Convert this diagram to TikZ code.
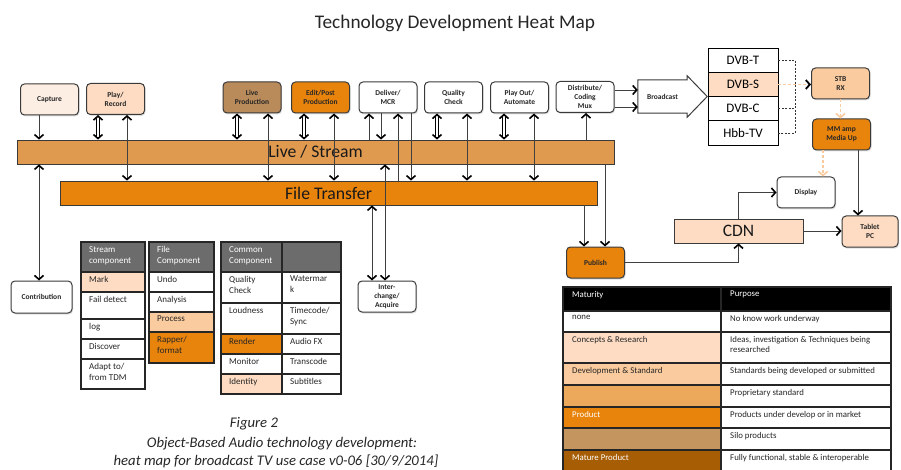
\documentclass[tikz,border=0pt]{standalone}
\usepackage{fontspec}
\setmainfont{Carlito}
\usetikzlibrary{positioning,arrows.meta,shadows}

\definecolor{inkgray}{HTML}{3A3A3A}
\definecolor{capturepeach}{HTML}{FDEEE3}
\definecolor{crpeach}{HTML}{FDDCC3}
\definecolor{dspeach}{HTML}{FACB9E}
\definecolor{proporange}{HTML}{EDA95B}
\definecolor{streamorange}{HTML}{E09A4F}
\definecolor{prodorange}{HTML}{E8830C}
\definecolor{silobrown}{HTML}{C4955E}
\definecolor{liveprodbrown}{HTML}{B98A5A}
\definecolor{maturebrown}{HTML}{A65D04}
\definecolor{hdrgray}{HTML}{6C6C6C}

\newcommand{\fs}[2]{\fontsize{#1}{#2}\selectfont}
% table cell: name, x, y, width, height, fill, text colour, text
\newcommand{\tcell}[8]{%
  \node[cell, fill=#6, minimum width=#4pt, minimum height=#5pt,
        label={[celltxt, text=#7]north west:{#8}}] (#1) at (#2,#3) {};}

\tikzset{
  stage/.style={draw=inkgray, line width=1pt, rounded corners=4pt, fill=white,
    minimum width=58pt, minimum height=31pt, inner sep=1pt, align=center,
    text=black!85, font=\bfseries\fs{7.5}{9},
    drop shadow={opacity=0.25, shadow xshift=1pt, shadow yshift=-1.5pt}},
  bus/.style={draw=inkgray, line width=0.8pt, minimum height=24pt,
    inner sep=0pt, text=black!90, font=\fs{17.7}{20}},
  dvb/.style={draw=black, line width=1pt, fill=white, minimum width=70pt,
    minimum height=24.3pt, inner sep=0pt, outer sep=0pt, font=\fs{13}{15}},
  cell/.style={draw=black!85, line width=1.1pt, anchor=north west,
    inner sep=0pt, outer sep=0pt},
  celltxt/.style={anchor=north west, inner xsep=8pt, inner ysep=4pt,
    align=left, font=\fs{9}{11}},
  conn/.style={draw=black!75, line width=0.9pt},
  dbl/.style={draw=black, line width=1pt, double=white, double distance=2.6pt, <->},
  peachdash/.style={draw=dspeach, line width=1.5pt, dash pattern=on 3pt off 2pt},
  bracket/.style={draw=black!80, line width=0.8pt, dash pattern=on 2pt off 1.5pt}
}

\begin{document}
\begin{tikzpicture}[x=1pt, y=-1pt,
    >={Straight Barb[length=4pt,width=9pt,line width=1.6pt,color=black]}]
  \useasboundingbox (0,0) rectangle (901,470);

  \node[font=\fs{19.3}{22}, text=black!85] (title) at (455,23)
    {Technology Development Heat Map};

  % buses
  \node[bus, fill=streamorange, minimum width=597pt] (stream) at (315.5,152) {Live / Stream};
  \node[bus, fill=prodorange, minimum width=537pt] (ftrans) at (328.5,193) {File Transfer};

  % top row of stages
  \node[stage, fill=capturepeach] (capture) at (49.5,99.5) {Capture};
  \node[stage, fill=crpeach] (playrec) at (115.5,99) {Play/\\Record};
  \node[stage, fill=liveprodbrown] (liveprod) at (252,97.5) {Live\\Production};
  \node[stage, fill=prodorange] (editpost) at (320.5,97.5) {Edit/Post\\Production};
  \node[stage] (deliver) at (388,97.5) {Deliver/\\MCR};
  \node[stage] (quality) at (453.5,97.5) {Quality\\Check};
  \node[stage] (playout) at (519.5,97.5) {Play Out/\\Automate};
  \node[stage] (distrib) at (585,97) {Distribute/\\Coding\\Mux};

  % broadcast arrow and delivery systems
  \node[inner sep=0pt, minimum width=49pt, minimum height=33pt,
        text=black!85, font=\bfseries\fs{7.5}{9}] (bcast) at (662.5,96.5) {Broadcast};
  \draw[draw=inkgray, line width=1pt, line join=miter]
    (bcast.north west) -- (bcast.north east) -- ([yshift=4pt]bcast.north east)
    -- ([xshift=20pt]bcast.east) -- ([yshift=-4pt]bcast.south east)
    -- (bcast.south east) -- (bcast.south west) -- cycle;
  \node[dvb] (dvbt) at (743,60.2) {DVB-T};
  \node[dvb, fill=crpeach, below=0pt of dvbt] (dvbs) {DVB-S};
  \node[dvb, below=0pt of dvbs] (dvbc) {DVB-C};
  \node[dvb, below=0pt of dvbc] (hbbtv) {Hbb-TV};

  \node[stage, fill=dspeach] (stb) at (840.5,83.5) {STB\\RX};
  \node[stage, fill=prodorange] (mmamp) at (841.5,134.5) {MM amp\\Media Up};
  \node[stage] (display) at (806,192.5) {Display};
  \node[stage, fill=crpeach, minimum width=56pt] (tablet) at (870,231.5) {Tablet\\PC};
  \node[bus, fill=crpeach, minimum width=129pt, font=\fs{17.5}{20}] (cdn) at (738.5,231) {CDN};
  \node[stage, fill=prodorange] (publish) at (595.5,262.5) {Publish};

  \node[stage, minimum width=61pt, minimum height=32pt] (contrib) at (41.5,297) {Contribution};
  \node[stage] (interchg) at (387,296.5) {Inter-\\change/\\Acquire};

  % stage <-> bus connectors
  \draw[conn, ->] ([xshift=-10.5pt]capture.south) -- ([xshift=-10.5pt]capture.south |- stream.north);
  \draw[dbl] ([xshift=-17.5pt]playrec.south) -- ([xshift=-17.5pt]playrec.south |- stream.north);
  \draw[conn, <->] ([xshift=11.5pt]playrec.south) -- ([xshift=11.5pt]playrec.south |- ftrans.north);
  \draw[dbl] ([xshift=-15pt]liveprod.south) -- ([xshift=-15pt]liveprod.south |- stream.north);
  \draw[conn, <->] ([xshift=16pt]liveprod.south) -- ([xshift=16pt]liveprod.south |- ftrans.north);
  \draw[dbl] ([xshift=-16.5pt]editpost.south) -- ([xshift=-16.5pt]editpost.south |- stream.north);
  \draw[conn, <->] ([xshift=13.5pt]editpost.south) -- ([xshift=13.5pt]editpost.south |- ftrans.north);
  \draw[conn, <-] ([xshift=-19pt]deliver.south) -- ([xshift=-19pt]deliver.south |- stream.north);
  \draw[conn, ->] ([xshift=-7pt]deliver.south) -- ([xshift=-7pt]deliver.south |- stream.north);
  \draw[conn, <-] ([xshift=10pt]deliver.south) -- ([xshift=10pt]deliver.south |- ftrans.north);
  \draw[conn, ->] ([xshift=23pt]deliver.south) -- ([xshift=23pt]deliver.south |- ftrans.north);
  \draw[dbl] ([xshift=-16.5pt]quality.south) -- ([xshift=-16.5pt]quality.south |- stream.north);
  \draw[conn, <->] ([xshift=13.5pt]quality.south) -- ([xshift=13.5pt]quality.south |- ftrans.north);
  \draw[dbl] ([xshift=-15.5pt]playout.south) -- ([xshift=-15.5pt]playout.south |- stream.north);
  \draw[conn, <->] ([xshift=14.5pt]playout.south) -- ([xshift=14.5pt]playout.south |- ftrans.north);
  \draw[conn, <-] ([xshift=1pt]distrib.south) -- ([xshift=1pt]distrib.south |- stream.north);
  \draw[conn, <->] ([xshift=-2.5pt]contrib.north) -- ([xshift=-2.5pt]contrib.north |- stream.south);
  \draw[conn, <->] ([xshift=-15pt]interchg.north) -- ([xshift=-15pt]interchg.north |- ftrans.south);
  \draw[conn, <->] ([xshift=-2pt]interchg.north) -- ([xshift=-2pt]interchg.north |- stream.south);
  \draw[conn, ->] ([xshift=9.5pt]publish.north |- stream.south) -- ([xshift=9.5pt]publish.north);
  \draw[conn, ->] ([xshift=-11.5pt]publish.north |- ftrans.south) -- ([xshift=-11.5pt]publish.north);

  % distribution side
  \draw[conn, ->] ([yshift=7pt]distrib.east) -- ([yshift=7pt]distrib.east -| bcast.west);
  \draw[conn, ->] ([yshift=-10pt]distrib.east) -- ([yshift=-10pt]distrib.east -| bcast.west);
  \draw[bracket] (dvbt.east) -- ++(17pt,0pt) |- (hbbtv.east);
  \draw[bracket] (dvbc.east) -- ++(17pt,0pt);
  \draw[peachdash, -{Straight Barb[length=4pt,width=9pt,line width=1.8pt,color=black]}]
    (dvbs.east) -- (dvbs.east -| stb.west);
  \draw[peachdash, -{Straight Barb[length=4pt,width=9pt,line width=1.6pt]}]
    (stb.south) -- (stb.south |- mmamp.north);
  \draw[peachdash, -{Straight Barb[length=4pt,width=9pt,line width=1.6pt]}]
    ([xshift=-18.5pt]mmamp.south) -- ([xshift=-18.5pt]mmamp.south |- display.north);
  \draw[conn, ->] ([xshift=16.5pt]mmamp.south) -- ([xshift=16.5pt]mmamp.south |- tablet.north);
  \draw[conn, ->] (cdn.north) |- (display.west);
  \draw[conn, ->] (cdn.east) -- (cdn.east -| tablet.west);
  \draw[conn, ->] (publish.east) -| (cdn.south);

  % component tables
  \tcell{scomph}{81}{242}{64}{30}{hdrgray}{white}{Stream\\component}
  \tcell{smark}{81}{272}{64}{20}{crpeach}{black!85}{Mark}
  \tcell{sfail}{81}{292}{64}{27}{white}{black!85}{Fail detect}
  \tcell{slog}{81}{319}{64}{20}{white}{black!85}{log}
  \tcell{sdisc}{81}{339}{64}{20}{white}{black!85}{Discover}
  \tcell{sadapt}{81}{359}{64}{30}{white}{black!85}{Adapt to/\\from TDM}

  \tcell{fcomph}{149}{242}{65}{30}{hdrgray}{white}{File\\Component}
  \tcell{fundo}{149}{272}{65}{20}{white}{black!85}{Undo}
  \tcell{fanal}{149}{292}{65}{20}{white}{black!85}{Analysis}
  \tcell{fproc}{149}{312}{65}{20}{dspeach}{black!85}{Process}
  \tcell{frapper}{149}{332}{65}{31}{prodorange}{black!85}{Rapper/\\format}

  \tcell{ccomph}{221}{242}{61}{30}{hdrgray}{white}{Common\\Component}
  \tcell{ccomphb}{282}{242}{59}{30}{hdrgray}{white}{}
  \tcell{cqc}{221}{272}{61}{31}{white}{black!85}{Quality\\Check}
  \tcell{cwm}{282}{272}{59}{31}{white}{black!85}{Watermar\\k}
  \tcell{cloud}{221}{303}{61}{31}{white}{black!85}{Loudness}
  \tcell{ctc}{282}{303}{59}{31}{white}{black!85}{Timecode/\\Sync}
  \tcell{crender}{221}{334}{61}{20}{prodorange}{black!85}{Render}
  \tcell{cafx}{282}{334}{59}{20}{white}{black!85}{Audio FX}
  \tcell{cmon}{221}{354}{61}{20}{white}{black!85}{Monitor}
  \tcell{ctrans}{282}{354}{59}{20}{white}{black!85}{Transcode}
  \tcell{cident}{221}{374}{61}{20}{crpeach}{black!85}{Identity}
  \tcell{csub}{282}{374}{59}{20}{white}{black!85}{Subtitles}

  % maturity key
  \tikzset{celltxt/.append style={font=\fs{8.8}{10.5}, inner xsep=9pt}}
  \tcell{mhead}{563}{287}{158}{24}{black}{white}{Maturity}
  \tcell{phead}{721}{287}{170}{24}{black}{white}{Purpose}
  \tcell{mnone}{563}{311}{158}{21}{white}{black!85}{none}
  \tcell{pnone}{721}{311}{170}{21}{white}{black!85}{No know work underway}
  \tcell{mcr}{563}{332}{158}{31}{crpeach}{black!85}{Concepts \& Research}
  \tcell{pcr}{721}{332}{170}{31}{white}{black!85}{Ideas, investigation \& Techniques being\\researched}
  \tcell{mds}{563}{363}{158}{22}{dspeach}{black!85}{Development \& Standard}
  \tcell{pds}{721}{363}{170}{22}{white}{black!85}{Standards being developed or submitted}
  \tcell{mprop}{563}{385}{158}{22}{proporange}{black!85}{}
  \tcell{pprop}{721}{385}{170}{22}{white}{black!85}{Proprietary standard}
  \tcell{mprod}{563}{407}{158}{21}{prodorange}{white}{Product}
  \tcell{pprod}{721}{407}{170}{21}{white}{black!85}{Products under develop or in market}
  \tcell{msilo}{563}{428}{158}{22}{silobrown}{black!85}{}
  \tcell{psilo}{721}{428}{170}{22}{white}{black!85}{Silo products}
  \tcell{mmat}{563}{450}{158}{22}{maturebrown}{white}{Mature Product}
  \tcell{pmat}{721}{450}{170}{22}{white}{black!85}{Fully functional, stable \& interoperable}

  % caption
  \node[anchor=base, font=\itshape\fs{14.7}{17}, text=black!85] (capfig) at (254,427) {Figure 2};
  \node[anchor=base, font=\itshape\fs{14.7}{17}, text=black!85] (capone) at (282,447)
    {Object-Based Audio technology development:};
  \node[anchor=base, font=\itshape\fs{14.7}{17}, text=black!85] (captwo) at (276,465)
    {heat map for broadcast TV use case v0-06 [30/9/2014]};
\end{tikzpicture}
\end{document}
